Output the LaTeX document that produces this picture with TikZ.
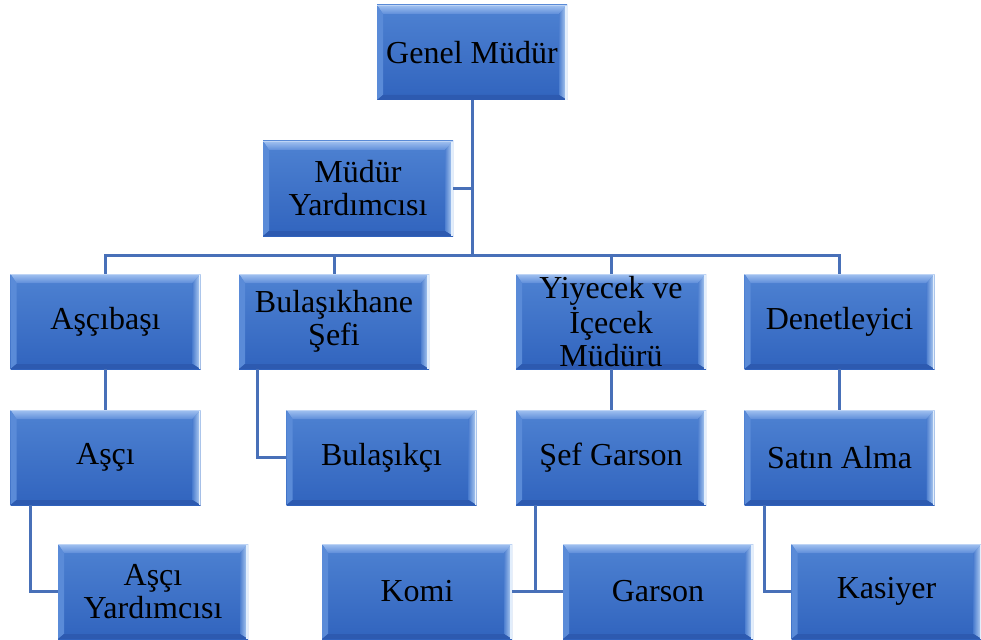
\documentclass[tikz,border=0pt]{standalone}
\usepackage{fontspec}
\setmainfont{Liberation Serif}
\usetikzlibrary{calc}
\definecolor{faceT}{HTML}{4E82D2}
\definecolor{faceB}{HTML}{3164BE}
\definecolor{bevTopA}{HTML}{A2C2F0}
\definecolor{bevTopB}{HTML}{5E8DDA}
\definecolor{bevLeft}{HTML}{5A8BD8}
\definecolor{bevRightA}{HTML}{4F80D0}
\definecolor{bevRightB}{HTML}{BCD6F6}
\definecolor{bevBot}{HTML}{2D5AB0}
\definecolor{edgeLight}{HTML}{E2EEFC}
\definecolor{connC}{HTML}{4870B8}
\newcommand{\boxfont}{\fontsize{32}{33}\selectfont}
\tikzset{
  orgbox/.style={rectangle, minimum width=190pt, minimum height=95pt, inner sep=0pt,
    align=center, font=\boxfont, text=black, top color=faceT, bottom color=faceB, draw=none,
    path picture={
      \coordinate (pNW) at (path picture bounding box.north west);
      \coordinate (pNE) at (path picture bounding box.north east);
      \coordinate (pSW) at (path picture bounding box.south west);
      \coordinate (pSE) at (path picture bounding box.south east);
      \shade[top color=bevTopA, bottom color=bevTopB] (pNW) -- (pNE) -- ([xshift=-8pt,yshift=-9pt]pNE) -- ([xshift=6pt,yshift=-9pt]pNW) -- cycle;
      \fill[bevLeft] (pNW) -- ([xshift=6pt,yshift=-9pt]pNW) -- ([xshift=6pt,yshift=5pt]pSW) -- (pSW) -- cycle;
      \shade[left color=bevRightA, right color=bevRightB] (pNE) -- ([xshift=-8pt,yshift=-9pt]pNE) -- ([xshift=-8pt,yshift=5pt]pSE) -- (pSE) -- cycle;
      \fill[bevBot] (pSW) -- ([xshift=6pt,yshift=5pt]pSW) -- ([xshift=-8pt,yshift=5pt]pSE) -- (pSE) -- cycle;
      \fill[edgeLight] ([xshift=-2pt]pNE) rectangle (pSE);
      \fill[bevTopA!70!white] (pNW) rectangle ([yshift=-1.2pt]pNE);
    }},
  conn/.style={draw=connC, line width=3pt}
}
\begin{document}
\begin{tikzpicture}[x=1pt,y=-1pt]
\useasboundingbox (0,0) rectangle (981,639);
\node[orgbox] (gm) at (472,52.5) {Genel Müdür};
\node[orgbox] (my) at (358,188.5) {Müdür\\Yardımcısı};
\node[orgbox] (asb) at (105.5,321.5) {Aşçıbaşı};
\node[orgbox] (bul) at (334,321.5) {Bulaşıkhane\\Şefi};
\node[orgbox] (yiy) at (611,321.5) {Yiyecek ve\\İçecek\\Müdürü};
\node[orgbox] (den) at (839.5,321.5) {Denetleyici};
\node[orgbox] (asc) at (105.5,457.5) {Aşçı};
\node[orgbox] (bci) at (381.5,457.5) {Bulaşıkçı};
\node[orgbox] (sef) at (611,457.5) {Şef Garson};
\node[orgbox] (sat) at (839.5,457.5) {Satın Alma};
\node[orgbox] (ay) at (153,591.5) {Aşçı\\Yardımcısı};
\node[orgbox] (komi) at (417,591.5) {Komi};
\node[orgbox] (gar) at (658,591.5) {Garson};
\node[orgbox] (kas) at (886.5,591.5) {Kasiyer};
\coordinate (bus) at (472,255);
\coordinate (low) at (536,591.5);
\draw[conn] (gm.south) -- (gm.south |- bus);
\draw[conn] (my.east) -- (my.east -| gm.south);
\draw[conn] (asb.north) -- (asb.north |- bus) -- (den.north |- bus) -- (den.north);
\draw[conn] (bul.north) -- (bul.north |- bus);
\draw[conn] (yiy.north) -- (yiy.north |- bus);
\draw[conn] (asb.south) -- (asc.north);
\draw[conn] (yiy.south) -- (sef.north);
\draw[conn] (den.south) -- (sat.north);
\draw[conn] ([xshift=20pt]asc.south west) |- (ay.west);
\draw[conn] ([xshift=19pt]bul.south west) |- (bci.west);
\draw[conn] ([xshift=20pt]sat.south west) |- (kas.west);
\draw[conn] ([xshift=20pt]sef.south west) -- ([xshift=20pt]sef.south west |- low);
\draw[conn] (komi.east) -- (gar.west);
\end{tikzpicture}
\end{document}
